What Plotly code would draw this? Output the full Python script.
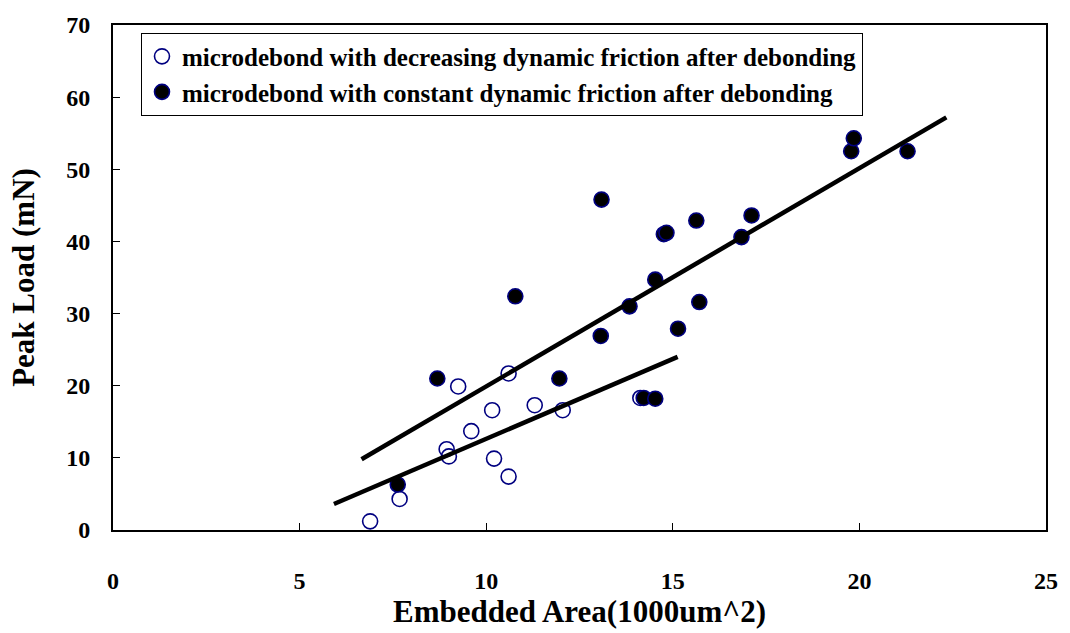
import plotly.graph_objects as go

# Data
dec_x = [6.89, 7.68, 8.94, 9.00, 9.25, 9.60, 10.16, 10.21, 10.60, 10.60, 11.30, 12.05, 14.13]
dec_y = [1.2, 4.3, 11.2, 10.2, 19.9, 13.7, 16.6, 9.9, 21.7, 7.4, 17.3, 16.6, 18.3]

const_x = [7.63, 8.69, 10.78, 11.96, 13.07, 13.09, 13.84, 14.22, 14.53, 14.53, 14.76, 14.83,
           15.14, 15.63, 15.71, 16.84, 17.11, 19.78, 19.85, 21.29]
const_y = [6.3, 21.0, 32.4, 21.0, 26.9, 45.8, 31.0, 18.3, 18.2, 34.7, 41.0, 41.2,
           27.9, 42.9, 31.6, 40.6, 43.6, 52.5, 54.3, 52.5]

# Trendline end points
trend_dec_x = [5.92, 15.13]
trend_dec_y = [3.6, 24.0]
trend_const_x = [6.66, 22.33]
trend_const_y = [9.8, 57.2]

x_ticks = [0, 5, 10, 15, 20, 25]
y_ticks = [0, 10, 20, 30, 40, 50, 60, 70]

FONT = "Liberation Serif, Times New Roman, serif"
NAVY = "#000080"

fig = go.Figure()
fig.add_trace(go.Scatter(
    x=dec_x, y=dec_y, mode="markers",
    name="<b>microdebond with decreasing dynamic friction after debonding</b>",
    legendgroup="a",
    marker=dict(symbol="circle-open", size=15, color=NAVY, line=dict(width=1.6, color=NAVY)),
))
fig.add_trace(go.Scatter(
    x=const_x, y=const_y, mode="markers",
    name="<b>microdebond with constant dynamic friction after debonding</b>",
    legendgroup="b",
    marker=dict(symbol="circle", size=15, color="black", line=dict(width=1.6, color=NAVY)),
))
fig.add_trace(go.Scatter(x=trend_dec_x, y=trend_dec_y, mode="lines", showlegend=False,
                         line=dict(color="black", width=4.5), hoverinfo="skip"))
fig.add_trace(go.Scatter(x=trend_const_x, y=trend_const_y, mode="lines", showlegend=False,
                         line=dict(color="black", width=4.5), hoverinfo="skip"))

fig.update_layout(
    width=1070, height=633,
    margin=dict(l=113, r=19, t=17, b=102),
    paper_bgcolor="white", plot_bgcolor="white",
    font=dict(family=FONT, size=22, color="black"),
    showlegend=True,
    legend=dict(
        x=0.03, y=0.985, xanchor="left", yanchor="top",
        bgcolor="white", bordercolor="black", borderwidth=1,
        font=dict(family=FONT, size=25, color="black"),
        tracegroupgap=0, itemwidth=30,
    ),
    xaxis=dict(
        range=[0, 25], tickvals=x_ticks, ticktext=[f"<b>{v}</b>" for v in x_ticks],
        showgrid=False, zeroline=False,
        showline=True, linecolor="black", linewidth=2, mirror=True,
        ticks="inside", ticklen=7, tickcolor="black", tickwidth=1,
        tickfont=dict(family=FONT, size=24, color="black"),
        ticklabelstandoff=28,
        title=dict(text="<b>Embedded Area(1000um^2)</b>", standoff=6,
                   font=dict(family=FONT, size=31, color="black")),
    ),
    yaxis=dict(
        range=[0, 70], tickvals=y_ticks, ticktext=[f"<b>{v}</b>" for v in y_ticks],
        showgrid=False, zeroline=False,
        showline=True, linecolor="black", linewidth=2, mirror=True,
        ticks="inside", ticklen=7, tickcolor="black", tickwidth=1,
        tickfont=dict(family=FONT, size=24, color="black"),
        ticklabelstandoff=16,
        title=dict(text="<b>Peak Load (mN)</b>", standoff=22,
                   font=dict(family=FONT, size=31, color="black")),
    ),
)

fig.write_html("out.html")
